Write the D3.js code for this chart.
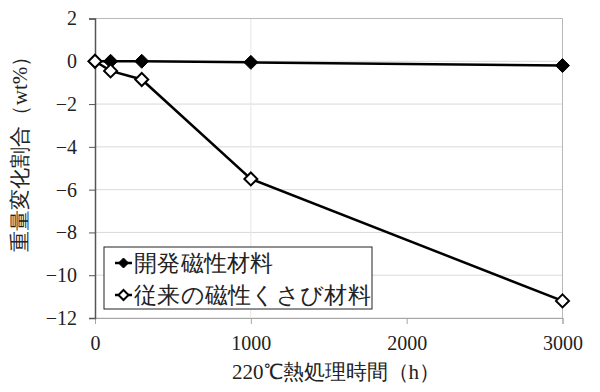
<!DOCTYPE html>
<html><head><meta charset="utf-8"><script src="https://cdn.jsdelivr.net/npm/d3@7"></script></head>
<body style="margin:0">
<script>
// Data
const hours = [0, 100, 300, 1000, 3000];
const developedValues = [0, 0, 0, -0.05, -0.2];
const conventionalValues = [0, -0.45, -0.85, -5.5, -11.2];
const seriesNames = ["開発磁性材料", "従来の磁性くさび材料"];
const yTicks = [2, 0, -2, -4, -6, -8, -10, -12];
const xTicks = [0, 1000, 2000, 3000];

const W = 600, H = 392;
const margin = { top: 18.5, right: 37.5, bottom: 74, left: 95 };
const width = W - margin.left - margin.right;
const height = H - margin.top - margin.bottom;
const serifFont = '"Liberation Serif"';

const svg = d3.select("body").append("svg")
  .attr("width", W)
  .attr("height", H);

const g = svg.append("g")
  .attr("transform", `translate(${margin.left},${margin.top})`);

const x = d3.scaleLinear().domain([0, 3000]).range([0, width]);
const y = d3.scaleLinear().domain([-12, 2]).range([height, 0]);

// horizontal gridlines
g.selectAll(".grid")
  .data(yTicks)
  .enter().append("line")
  .attr("x1", 0).attr("x2", width)
  .attr("y1", d => y(d)).attr("y2", d => y(d))
  .attr("stroke", "#d9d9d9");

// faint vertical line at 1000
g.append("line")
  .attr("x1", x(1000)).attr("x2", x(1000))
  .attr("y1", 0).attr("y2", height)
  .attr("stroke", "#e6e6e6");

// plot border (top / right)
g.append("path")
  .attr("d", `M0,0H${width}V${height}`)
  .attr("fill", "none")
  .attr("stroke", "#b8b8b8");

// x axis
const xAxis = g.append("g")
  .attr("transform", `translate(0,${height})`)
  .call(d3.axisBottom(x).tickValues(xTicks).tickSize(6).tickPadding(12).tickFormat(d3.format("d")));
xAxis.select(".domain").attr("stroke", "#a6a6a6");
xAxis.selectAll(".tick line").attr("stroke", "#a6a6a6");
xAxis.selectAll("text")
  .style("font-family", serifFont)
  .style("font-size", "20px")
  .attr("fill", "#222");

// y axis
const yAxis = g.append("g")
  .call(d3.axisLeft(y).tickValues(yTicks).tickSize(6).tickPadding(12));
yAxis.select(".domain").attr("stroke", "#555").attr("stroke-width", 1.5);
yAxis.selectAll(".tick line").attr("stroke", "#555");
yAxis.selectAll("text")
  .style("font-family", serifFont)
  .style("font-size", "20px")
  .attr("fill", "#222");

// diamond marker path
const diamond = r => `M0,${-r}L${r},0L0,${r}L${-r},0Z`;

const line = d3.line()
  .x(d => x(d[0]))
  .y(d => y(d[1]));

const series = [
  { name: seriesNames[0], values: developedValues, fill: "#000" },
  { name: seriesNames[1], values: conventionalValues, fill: "#fff" }
];

series.forEach(s => {
  const pts = hours.map((h, i) => [h, s.values[i]]);
  g.append("path")
    .datum(pts)
    .attr("fill", "none")
    .attr("stroke", "#000")
    .attr("stroke-width", 2.5)
    .attr("d", line);
  g.selectAll(null)
    .data(pts)
    .enter().append("path")
    .attr("transform", d => `translate(${x(d[0])},${y(d[1])})`)
    .attr("d", diamond(s.fill === "#000" ? 7 : 6.5))
    .attr("fill", s.fill)
    .attr("stroke", "#000")
    .attr("stroke-width", s.fill === "#000" ? 1 : 2);
});

// legend
const legend = svg.append("g").attr("transform", "translate(104,247)");
legend.append("rect")
  .attr("width", 268).attr("height", 62)
  .attr("fill", "#fff")
  .attr("stroke", "#222");

series.forEach((s, i) => {
  const row = legend.append("g").attr("transform", `translate(0,${16 + i * 32})`);
  row.append("line")
    .attr("x1", 11).attr("x2", 28)
    .attr("stroke", "#000").attr("stroke-width", 2.5);
  row.append("path")
    .attr("transform", "translate(19.5,0)")
    .attr("d", diamond(5))
    .attr("fill", s.fill)
    .attr("stroke", "#000")
    .attr("stroke-width", s.fill === "#000" ? 1 : 2);
  row.append("text")
    .attr("x", 30)
    .attr("dominant-baseline", "central")
    .style("font-family", serifFont)
    .style("font-size", "22.5px")
    .style("letter-spacing", "0.3px")
    .attr("fill", "#222")
    .text(s.name);
});

// axis titles
svg.append("text")
  .attr("x", 336).attr("y", 379)
  .attr("text-anchor", "middle")
  .style("font-family", serifFont)
  .style("font-size", "21px")
  .attr("fill", "#222")
  .text("220℃熱処理時間（h）");

svg.append("text")
  .attr("transform", "translate(20,149) rotate(-90)")
  .attr("text-anchor", "middle")
  .attr("dominant-baseline", "central")
  .style("font-family", serifFont)
  .style("font-size", "21px")
  .attr("fill", "#222")
  .text("重量変化割合（wt%）");
</script>
</body>
</html>
